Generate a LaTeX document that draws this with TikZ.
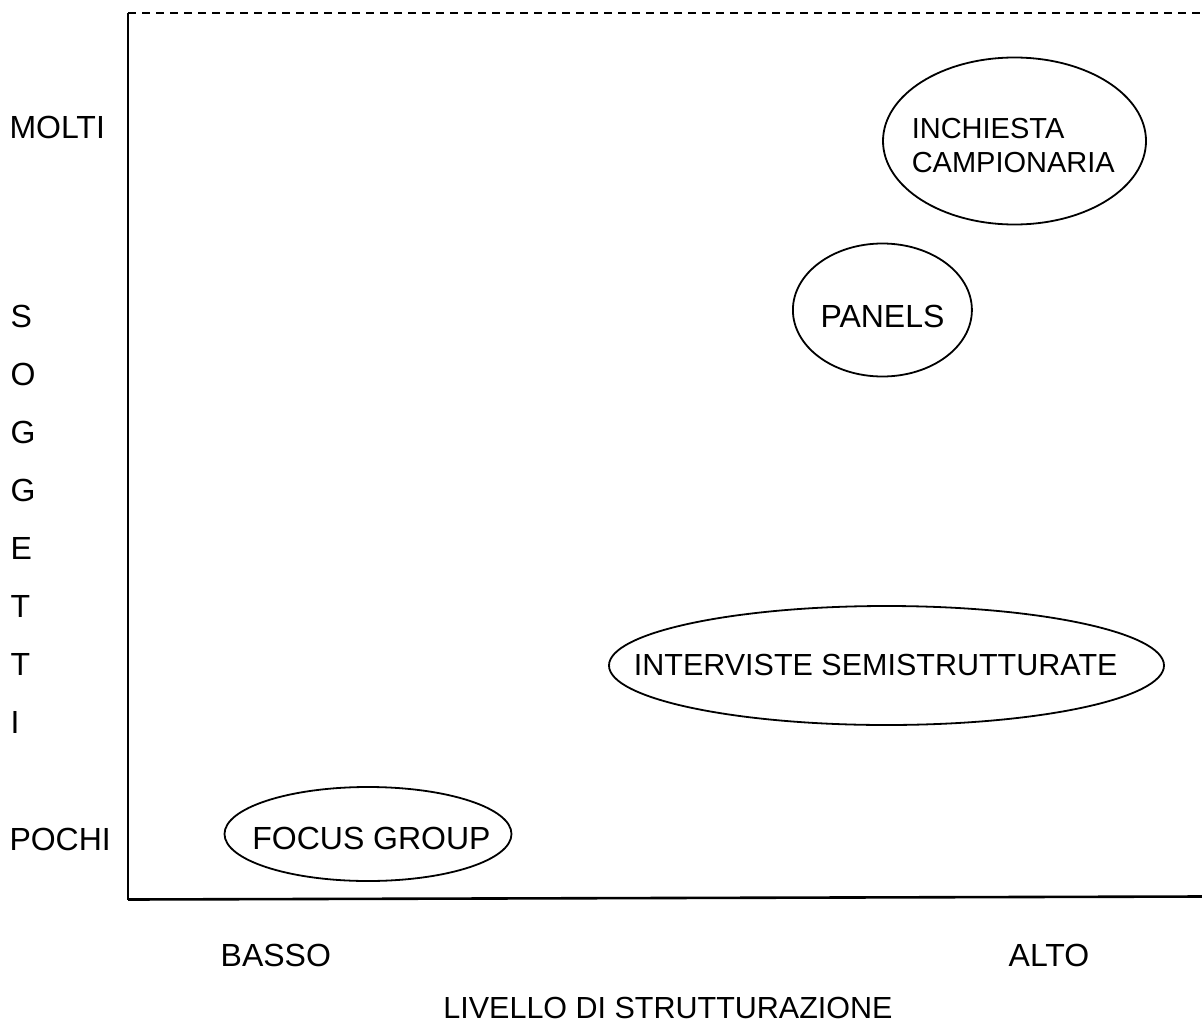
\documentclass[tikz,border=0pt]{standalone}
\usepackage{fontspec}
\setmainfont{Liberation Sans}
\usetikzlibrary{shapes.geometric}
\begin{document}
\begin{tikzpicture}[x=1pt,y=-1pt,
  lbl/.style={inner sep=0pt, outer sep=0pt, font=\fontsize{32}{38}\selectfont, anchor=base west},
  clbl/.style={lbl, anchor=base},
  narrow/.style={font=\fontsize{30.5}{36}\selectfont},
  small/.style={font=\fontsize{29}{34}\selectfont},
  oval/.style={draw, ellipse, line width=1.8pt, inner sep=0pt, outer sep=0pt},
  vaxis/.style={line width=2pt},
  haxis/.style={line width=2.6pt},
  topline/.style={line width=2pt, dash pattern=on 8pt off 6pt}]
\useasboundingbox (0,0) rectangle (1202,1025);

% frame and axes
\coordinate (tl) at (128,13);
\coordinate (tr) at (1202,13);
\coordinate (bl) at (128,899.5);
\coordinate (br) at (1202,896.5);
\draw[topline] (tl) -- (tr);
\draw[vaxis] (tl) -- (bl);
\draw[haxis] (bl) -- (br);

% vertical axis labels
\node[lbl] (molti) at (9.5,138) {MOLTI};
\node[lbl] (s1) at (10.5,327) {S};
\node[lbl] (o1) at (10.5,385.3) {O};
\node[lbl] (g1) at (10.5,443.4) {G};
\node[lbl] (g2) at (10.5,501.5) {G};
\node[lbl] (e1) at (10.5,559.6) {E};
\node[lbl] (t1) at (10.5,617.7) {T};
\node[lbl] (t2) at (10.5,675.8) {T};
\node[lbl] (i1) at (10.5,733.9) {I};
\node[lbl] (pochi) at (9.5,850) {POCHI};

% horizontal axis labels
\node[clbl] (basso) at (275.8,966.5) {BASSO};
\node[clbl] (alto) at (1049,966) {ALTO};
\node[clbl, narrow] (livello) at (668,1018) {LIVELLO DI STRUTTURAZIONE};

% ellipses
\node[oval, minimum width=263pt, minimum height=167pt] (inchiesta) at (1014.5,141) {};
\node[lbl, small] (inchT1) at (911.8,138.3) {INCHIESTA};
\node[lbl, small] (inchT2) at (911.8,172.4) {CAMPIONARIA};

\node[oval, minimum width=179pt, minimum height=133pt] (panels) at (882.4,310) {};
\node[clbl] (panelsT) at (882.5,327) {PANELS};

\node[oval, minimum width=555pt, minimum height=119pt] (interviste) at (886.5,665.5) {};
\node[clbl, narrow] (intervisteT) at (875.7,675.7) {INTERVISTE SEMISTRUTTURATE};

\node[oval, minimum width=287pt, minimum height=94pt] (focus) at (368,834) {};
\node[clbl] (focusT) at (371.5,849) {FOCUS GROUP};
\end{tikzpicture}
\end{document}
